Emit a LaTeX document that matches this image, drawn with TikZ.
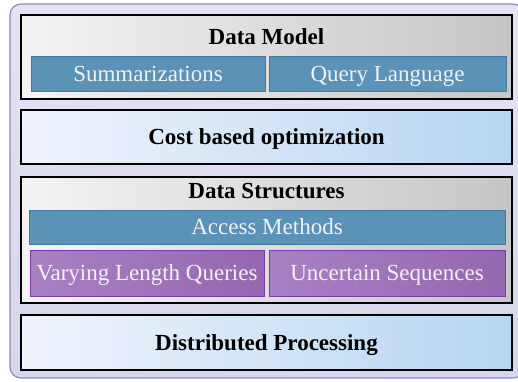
\documentclass[tikz,border=0pt]{standalone}
\usepackage{fontspec}
\setmainfont{Liberation Serif}
\usetikzlibrary{shadows}
\definecolor{framefill}{HTML}{D6D6EC}
\definecolor{frametop}{HTML}{E4E4F4}
\definecolor{frameline}{HTML}{8A8ABA}
\definecolor{graylo}{HTML}{F4F4F4}
\definecolor{grayhi}{HTML}{C6C6C6}
\definecolor{skylo}{HTML}{F0F4FC}
\definecolor{skyhi}{HTML}{B6D6F2}
\definecolor{tealfill}{HTML}{5A92B8}
\definecolor{tealline}{HTML}{44789C}
\definecolor{plumlo}{HTML}{A880C4}
\definecolor{plumhi}{HTML}{9468B0}
\definecolor{plumline}{HTML}{7A3AAE}
\tikzset{
  layer/.style={draw=black, line width=1.3pt, inner sep=0pt, anchor=center,
    drop shadow={shadow xshift=1.2pt, shadow yshift=-1.2pt, opacity=.45}},
  greylayer/.style={layer, left color=graylo, right color=grayhi},
  skylayer/.style={layer, left color=skylo, right color=skyhi,
    font=\fontsize{23}{25}\bfseries\selectfont, text height=15pt, text depth=0pt},
  title/.style={anchor=base, font=\fontsize{23}{25}\bfseries\selectfont},
  part/.style={draw=tealline, line width=1pt, fill=tealfill, inner sep=0pt,
    text=white!95!black, font=\fontsize{23}{25}\selectfont,
    text height=15pt, text depth=0pt},
  plumpart/.style={part, draw=plumline, left color=plumlo, right color=plumhi}
}
\begin{document}
\begin{tikzpicture}[x=1pt, y=-1pt]
\useasboundingbox (0,0) rectangle (518,381);
\clip (0,0) rectangle (518,381);
% frame round the stack
\node[draw=frameline, line width=1.2pt, rounded corners=11pt, top color=frametop,
  bottom color=framefill, inner sep=0pt, minimum width=514pt, minimum height=374pt]
  (stack) at (267,191) {};
% data model
\node[greylayer, minimum width=491pt, minimum height=84pt] (model) at (266.5,57) {};
\node[title] (modeltitle) at (266.5,44) {Data Model};
\node[part, minimum width=234pt, minimum height=35pt] (summ) at (148,73.5) {Summarizations};
\node[part, minimum width=237pt, minimum height=35pt] (query) at (387.5,73.5) {Query Language};
% optimizer
\node[skylayer, minimum width=491pt, minimum height=54pt] (cost) at (266.5,137) {Cost based optimization};
% data structures
\node[greylayer, minimum width=491pt, minimum height=126pt] (struct) at (266.5,240) {};
\node[title] (structtitle) at (266.5,198) {Data Structures};
\node[part, minimum width=476pt, minimum height=34pt] (access) at (267,227) {Access Methods};
\node[plumpart, minimum width=234pt, minimum height=46pt] (vary) at (147,273) {Varying Length Queries};
\node[plumpart, minimum width=236pt, minimum height=46pt] (unc) at (387,273) {Uncertain Sequences};
% distribution
\node[skylayer, minimum width=491pt, minimum height=55pt] (dist) at (266.5,342.5) {Distributed Processing};
\end{tikzpicture}
\end{document}
